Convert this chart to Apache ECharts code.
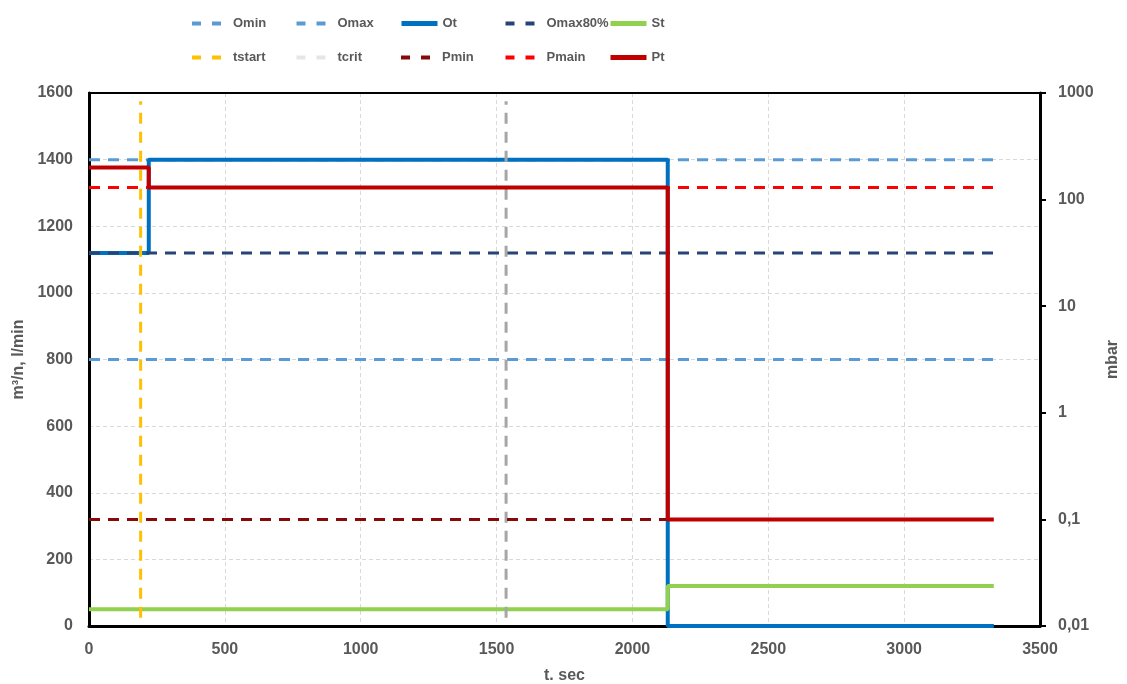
<!DOCTYPE html>
<html>
<head>
<meta charset="utf-8">
<script src="https://cdn.jsdelivr.net/npm/echarts@6/dist/echarts.min.js"></script>
<style>
  html, body { margin: 0; padding: 0; background: #fff; }
  #chart { width: 1127px; height: 684px; }
</style>
</head>
<body>
<div id="chart"></div>
<script>
// Time points (s)
const tStart = 190;
const tCrit = 1535;
const tSwitch = 220;
const tDrop = 2130;
const tEnd = 3330;

// Flow limits and measured flow (m³/n, l/min)
const oMin = [[0, 800], [tEnd, 800]];
const oMax = [[0, 1400], [tEnd, 1400]];
const oMax80 = [[0, 1120], [tEnd, 1120]];
const ot = [[0, 1120], [tSwitch, 1120], [tSwitch, 1400], [tDrop, 1400], [tDrop, 0], [tEnd, 0]];
const st = [[0, 50], [tDrop, 50], [tDrop, 120], [tEnd, 120]];

// Vertical markers
const tStartLine = [[tStart, 25], [tStart, 1575]];
const tCritLine = [[tCrit, 25], [tCrit, 1575]];

// Pressure (mbar, log scale)
const pMin = [[0, 0.1], [tEnd, 0.1]];
const pMain = [[0, 130], [tEnd, 130]];
const pt = [[0, 200], [tSwitch, 200], [tSwitch, 130], [tDrop, 130], [tDrop, 0.1], [tEnd, 0.1]];

// Legend layout: two rows of five entries
const legendRows = [
  ['Omin', 'Omax', 'Ot', 'Omax80%', 'St'],
  ['tstart', 'tcrit', 'Pmin', 'Pmain', 'Pt']
];
const solidNames = ['Ot', 'St', 'Pt'];

const FONT = "'Liberation Sans', Arial, sans-serif";
const TXT = '#595959';
const DASH = [11, 8];

function line(name, data, color, width, dashed, yAxisIndex) {
  return {
    name, type: 'line', data, yAxisIndex: yAxisIndex || 0,
    symbol: 'none', silent: true,
    lineStyle: { color, width, type: dashed ? DASH : 'solid', cap: 'butt' },
    itemStyle: { color }
  };
}

const legends = [];
legendRows.forEach((row, r) => {
  row.forEach((name, c) => {
    const solid = solidNames.includes(name);
    const ls = { width: solid ? 5 : 4, type: solid ? 'solid' : [9, 11] };
    if (name === 'tcrit') ls.color = '#E7E6E6';
    legends.push({
      orient: 'horizontal', left: 190 + c * 104.5, top: 17 + r * 34,
      padding: 0, itemWidth: 36, itemHeight: 12, itemGap: 0,
      selectedMode: false,
      itemStyle: { opacity: 0 },
      textStyle: { fontFamily: FONT, fontWeight: 'bold', fontSize: 13, color: TXT },
      data: [{ name, lineStyle: ls }]
    });
  });
});

const axisText = { fontFamily: FONT, fontWeight: 'bold', fontSize: 16, color: TXT };
const gridLine = { show: true, lineStyle: { color: '#D9D9D9', type: [4, 3], width: 1 } };

const chart = echarts.init(document.getElementById('chart'), null, { renderer: 'canvas' });
chart.setOption({
  animation: false,
  backgroundColor: '#fff',
  legend: legends,
  grid: { left: 89, right: 87, top: 93, bottom: 58, outerBoundsMode: 'none', containLabel: false },
  xAxis: [
    {
      type: 'value', min: 0, max: 3500, interval: 500,
      name: 't. sec', nameLocation: 'middle', nameGap: 42, nameTextStyle: axisText,
      axisLine: { onZero: false, lineStyle: { color: '#000', width: 3 } },
      axisTick: { show: false },
      axisLabel: Object.assign({ margin: 16, formatter: v => String(v) }, axisText),
      splitLine: gridLine
    },
    {
      // plot frame top edge
      type: 'value', position: 'top', min: 0, max: 3500, z: 5,
      axisLine: { show: true, onZero: false, lineStyle: { color: '#000', width: 2 } },
      axisTick: { show: false }, axisLabel: { show: false }, splitLine: { show: false }
    }
  ],
  yAxis: [
    {
      type: 'value', min: 0, max: 1600, interval: 200, position: 'left',
      name: 'm³/n, l/min', nameLocation: 'middle', nameGap: 59, nameRotate: 90, nameTextStyle: axisText,
      axisLine: { show: true, onZero: false, lineStyle: { color: '#000', width: 3 } },
      axisTick: { show: false },
      axisLabel: Object.assign({ margin: 16, formatter: v => String(v) }, axisText),
      splitLine: gridLine
    },
    {
      type: 'log', logBase: 10, min: 0.01, max: 1000, position: 'right',
      name: 'mbar', nameLocation: 'middle', nameGap: 60, nameRotate: 90, nameTextStyle: axisText,
      axisLine: { show: true, onZero: false, lineStyle: { color: '#000', width: 3 } },
      axisTick: { show: true, inside: false, length: 6, lineStyle: { color: '#000', width: 2 } },
      axisLabel: Object.assign({
        margin: 18,
        formatter: v => String(+(+v).toPrecision(3)).replace('.', ',')
      }, axisText),
      splitLine: { show: false }
    }
  ],
  series: [
    line('Omin', oMin, '#5B9BD5', 3, true),
    line('Omax', oMax, '#5B9BD5', 3, true),
    line('Ot', ot, '#0070C0', 4, false),
    line('Omax80%', oMax80, '#264478', 3, true),
    line('St', st, '#92D050', 4, false),
    line('tstart', tStartLine, '#FFC000', 3, true),
    line('tcrit', tCritLine, '#A6A6A6', 3, true),
    line('Pmin', pMin, '#860A0A', 3, true, 1),
    line('Pmain', pMain, '#FF0000', 3, true, 1),
    line('Pt', pt, '#C00000', 4, false, 1)
  ]
});
</script>
</body>
</html>
